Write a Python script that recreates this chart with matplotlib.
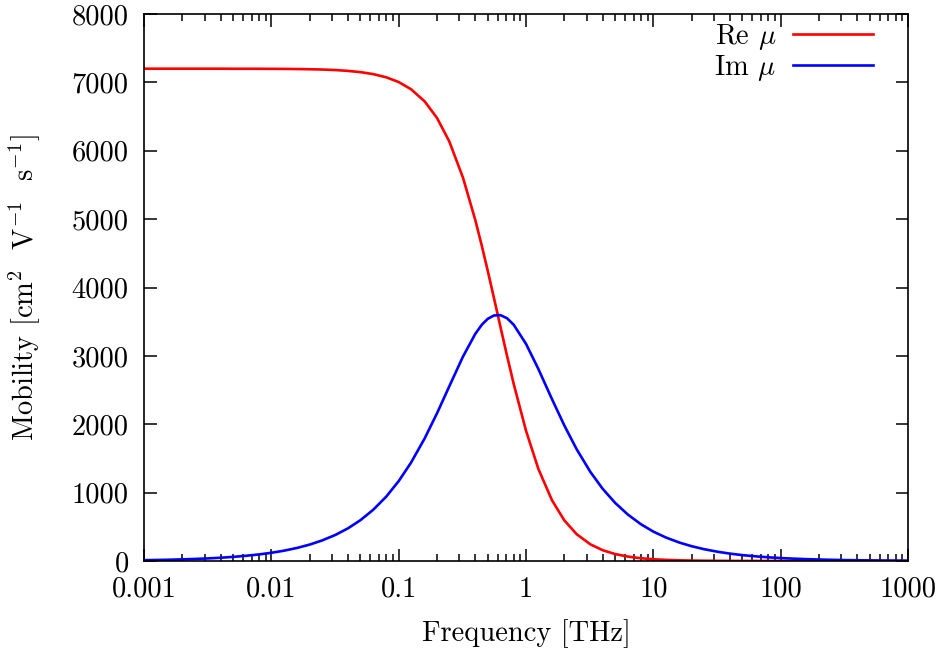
import matplotlib
matplotlib.use("Agg")
import matplotlib.pyplot as plt
from matplotlib.ticker import LogLocator, NullFormatter

plt.rcParams['font.family'] = 'serif'
plt.rcParams['font.serif'] = ['cmr10', 'DejaVu Serif']
plt.rcParams['mathtext.fontset'] = 'cm'
plt.rcParams['axes.formatter.use_mathtext'] = True

# Frequency samples [THz] and values
freq = [0.001, 0.00125, 0.0016, 0.002, 0.0025, 0.0032, 0.004, 0.005, 0.0063, 0.008,
        0.01, 0.0125, 0.016, 0.02, 0.025, 0.032, 0.04, 0.05, 0.063, 0.08,
        0.1, 0.125, 0.16, 0.2, 0.25, 0.32, 0.4, 0.45, 0.5, 0.56, 0.63, 0.71, 0.8,
        1.0, 1.25, 1.6, 2.0, 2.5, 3.2, 4.0, 5.0, 6.3, 8.0,
        10.0, 12.5, 16.0, 20.0, 25.0, 32.0, 40.0, 50.0, 63.0, 80.0,
        100.0, 125.0, 160.0, 200.0, 250.0, 320.0, 400.0, 500.0, 630.0, 800.0, 1000.0]
re_mu = [7200, 7200, 7200, 7200, 7200, 7200, 7200, 7199, 7199, 7199,
         7198, 7197, 7195, 7192, 7188, 7180, 7168, 7150, 7121, 7074,
         7005, 6900, 6722, 6480, 6135, 5606, 4985, 4608, 4249, 3848, 3424, 3000, 2592,
         1906, 1348, 888, 594, 392, 244, 158, 102, 65, 40,
         25.8, 16.5, 10.1, 6.5, 4.1, 2.5, 1.6, 1.0, 0.65, 0.4,
         0.26, 0.17, 0.1, 0.06, 0.04, 0.03, 0.02, 0.01, 0.0, 0.0, 0.0]
im_mu = [12, 15, 19, 24, 30, 38, 48, 60, 76, 96,
         120, 150, 192, 240, 300, 383, 478, 596, 748, 943,
         1168, 1438, 1793, 2160, 2556, 2990, 3323, 3456, 3541, 3591, 3596, 3550, 3456,
         3176, 2809, 2367, 1982, 1634, 1304, 1056, 852, 680, 537,
         430, 345, 270, 216, 173, 135, 108, 86, 69, 54,
         43, 34.6, 27, 21.6, 17.3, 13.5, 10.8, 8.6, 6.9, 5.4, 4.3]

xticks = [0.001, 0.01, 0.1, 1, 10, 100, 1000]
xticklabels = ['0.001', '0.01', '0.1', '1', '10', '100', '1000']
yticks = [0, 1000, 2000, 3000, 4000, 5000, 6000, 7000, 8000]

FS = 20.5

fig = plt.figure(figsize=(9.4, 6.55), dpi=100)
ax = fig.add_axes([144/940, 1-561/655, (908-144)/940, (561-14)/655])

ax.plot(freq, re_mu, color='#ff0000', lw=1.9, label=r'Re $\mu$')
ax.plot(freq, im_mu, color='#0000ff', lw=1.9, label=r'Im $\mu$')

ax.set_xscale('log')
ax.set_xlim(0.001, 1000)
ax.set_ylim(0, 8000)
ax.set_xticks(xticks)
ax.set_xticklabels(xticklabels)
ax.xaxis.set_minor_locator(LogLocator(base=10, subs=range(2, 10), numticks=100))
ax.xaxis.set_minor_formatter(NullFormatter())
ax.set_yticks(yticks)
ax.set_yticklabels([str(v) for v in yticks])

ax.tick_params(which='both', direction='in', top=True, right=True, labelsize=FS)
ax.tick_params(axis='x', which='major', pad=11)
ax.tick_params(axis='y', which='major', pad=11)
ax.tick_params(which='major', length=9, width=1.1)
ax.tick_params(which='minor', length=5, width=1.1)
for s in ax.spines.values():
    s.set_linewidth(1.2)

ax.set_xlabel('Frequency [THz]', fontsize=FS)
ax.xaxis.set_label_coords(526/940, 1-619/655, transform=fig.transFigure)
ax.set_ylabel(r'Mobility [cm$^2$  V$^{-1}$  s$^{-1}$]', fontsize=FS)
ax.yaxis.set_label_coords(43/940, 1-288/655, transform=fig.transFigure)

leg = ax.legend(loc='upper right', bbox_to_anchor=(873/940, 1-22/655),
                bbox_transform=fig.transFigure, frameon=False, fontsize=FS,
                markerfirst=False, handlelength=2.8, handletextpad=0.6,
                borderpad=0.0, borderaxespad=0.0, labelspacing=0.02)
for t in leg.get_texts():
    t.set_ha('right')

fig.savefig('out.png', dpi=100)
